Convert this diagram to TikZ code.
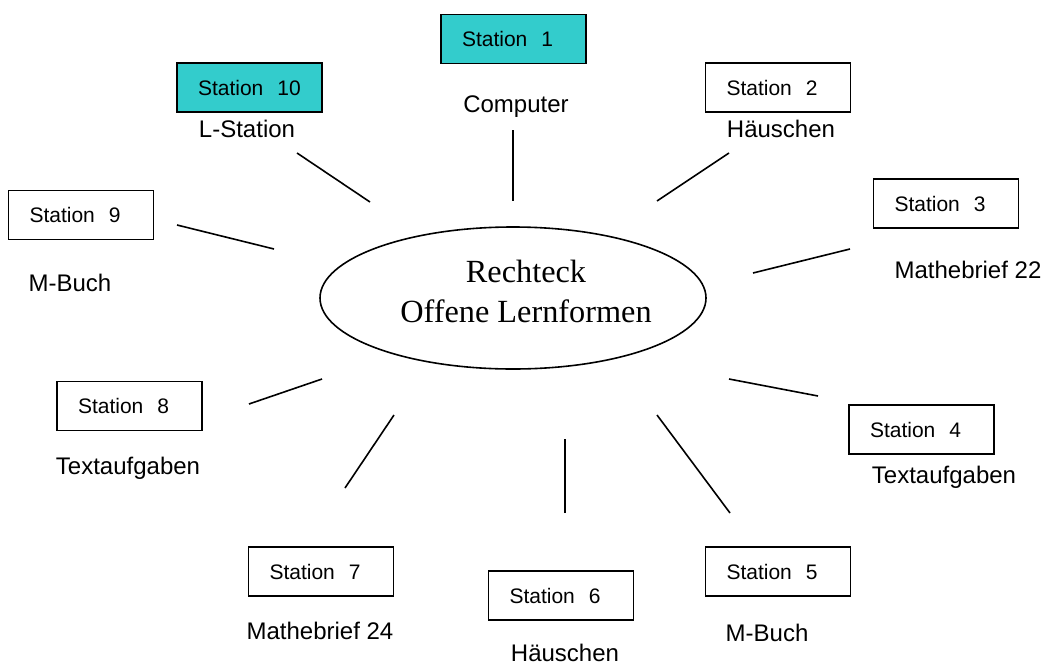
\documentclass[tikz,border=0pt]{standalone}
\usepackage{fontspec}
\setmainfont{Liberation Sans}
\newfontfamily\hubfont{Liberation Serif}
\usetikzlibrary{shapes.geometric}
\definecolor{tealfill}{HTML}{33CCCC}
\begin{document}
\begin{tikzpicture}[x=1pt,y=-1pt,
  stationbox/.style={draw, line width=1.5pt, inner xsep=21pt, inner ysep=0pt,
    text width=103pt, minimum height=49pt, align=left,
    font=\fontsize{21}{25}\selectfont},
  hl/.style={fill=tealfill},
  lbl/.style={anchor=base, inner sep=0pt, font=\fontsize{24}{28}\selectfont},
  spoke/.style={line width=1.6pt}]
\useasboundingbox (0,0) rectangle (1044,664);

% hub
\node[ellipse, draw, line width=1.6pt, minimum width=386pt, minimum height=142pt] (hub) at (513,298) {};
\node[align=center, inner sep=0pt, font=\hubfont\fontsize{32.3}{40}\selectfont] (hubtext) at (526,291) {Rechteck\\Offene Lernformen};

% station boxes
\node[stationbox, hl] (s1) at (513.5,39) {Station\ \ 1};
\node[stationbox] (s2) at (778,87.5) {Station\ \ 2};
\node[stationbox] (s3) at (946,203.5) {Station\ \ 3};
\node[stationbox] (s4) at (921.5,429.5) {Station\ \ 4};
\node[stationbox] (s5) at (778,571.5) {Station\ \ 5};
\node[stationbox] (s6) at (561,595.5) {Station\ \ 6};
\node[stationbox] (s7) at (321,571.5) {Station\ \ 7};
\node[stationbox] (s8) at (129.5,406) {Station\ \ 8};
\node[stationbox] (s9) at (81,215) {Station\ \ 9};
\node[stationbox, hl] (s10) at (249.5,87.5) {Station\ \ 10};

% labels
\node[lbl] (l1) at (516,112) {Computer};
\node[lbl] (l2) at (781,137) {Häuschen};
\node[lbl] (l3) at (968,278) {Mathebrief 22};
\node[lbl] (l4) at (944,483) {Textaufgaben};
\node[lbl] (l5) at (767,641) {M-Buch};
\node[lbl] (l6) at (565,661) {Häuschen};
\node[lbl] (l7) at (320,639) {Mathebrief 24};
\node[lbl] (l8) at (128,474) {Textaufgaben};
\node[lbl] (l9) at (70,291) {M-Buch};
\node[lbl] (l10) at (247,137) {L-Station};

% spokes
\coordinate (a1) at (513,130);  \coordinate (b1) at (513,201);
\coordinate (a2) at (729,153);  \coordinate (b2) at (657,201);
\coordinate (a3) at (850,249);  \coordinate (b3) at (753,273);
\coordinate (a4) at (818,396);  \coordinate (b4) at (729,379);
\coordinate (a5) at (730,513);  \coordinate (b5) at (657,415);
\coordinate (a6) at (565,513);  \coordinate (b6) at (565,439);
\coordinate (a7) at (345,488);  \coordinate (b7) at (394,415);
\coordinate (a8) at (249,404);  \coordinate (b8) at (322,379);
\coordinate (a9) at (177,225);  \coordinate (b9) at (274,249);
\coordinate (a10) at (297,153); \coordinate (b10) at (370,202);
\foreach \i in {1,...,10} { \draw[spoke] (a\i) -- (b\i); }
\end{tikzpicture}
\end{document}
